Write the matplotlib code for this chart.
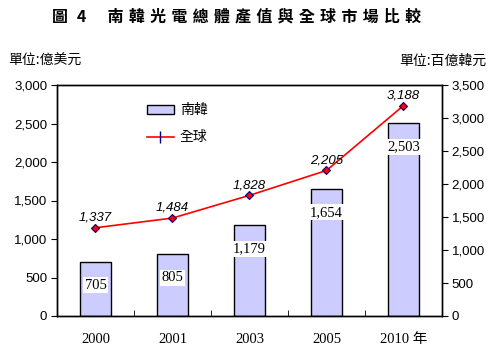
import matplotlib
matplotlib.use("Agg")
import matplotlib.pyplot as plt
from matplotlib.patches import Patch
from matplotlib.lines import Line2D

years = ["2000", "2001", "2003", "2005", "2010 年"]
korea = [705, 805, 1179, 1654, 2503]
world = [1337, 1484, 1828, 2205, 3188]
left_ticks = [0, 500, 1000, 1500, 2000, 2500, 3000]
right_ticks = [0, 500, 1000, 1500, 2000, 2500, 3000, 3500]

CJK = ['Noto Sans CJK TC', 'DejaVu Sans']
NUM = ['Liberation Sans', 'Noto Sans CJK TC']
SER = ['Liberation Serif', 'Noto Sans CJK TC']

fig = plt.figure(figsize=(4.99, 3.49), dpi=100)
ax = fig.add_axes([57/499, 33/349, 385/499, 231/349])
ax2 = ax.twinx()

x = list(range(len(years)))
bars = ax.bar(x, korea, width=0.4, color='#ccccff', edgecolor='black', linewidth=1.0, zorder=2)
ax.set_ylim(0, 3000)
ax.set_xlim(-0.5, len(years) - 0.5)
ax.set_yticks(left_ticks)
ax.set_yticklabels([f"{v:,}" for v in left_ticks], family=NUM, fontsize=9.5)
ax.set_xticks(x)
ax.set_xticklabels(years, family=SER, fontsize=10.5)
ax.set_xticks([i + 0.5 for i in x[:-1]], minor=True)
ax.tick_params(axis='x', which='major', length=0, pad=12)
ax.tick_params(axis='x', which='minor', length=4, direction='in')
ax.tick_params(axis='y', length=4, direction='out', pad=3)

for xi, v in zip(x, korea):
    ax.annotate(f"{v:,}", (xi, v), xytext=(0, -17), textcoords='offset points',
                ha='center', va='center', fontsize=10.5, family=SER, zorder=5,
                bbox=dict(facecolor='white', edgecolor='none', pad=1))

ax2.plot(x, world, color='#ff0000', lw=1.2, marker='D', markersize=4.5,
         markerfacecolor='#ff0000', markeredgecolor='#000080', markeredgewidth=0.8, zorder=3)
ax2.set_ylim(0, 3500)
ax2.set_yticks(right_ticks)
ax2.set_yticklabels([f"{v:,}" for v in right_ticks], family=NUM, fontsize=9.5)
ax2.tick_params(axis='y', length=4, direction='out', pad=3)
for xi, v in zip(x, world):
    ax2.annotate(f"{v:,}", (xi, v), xytext=(0, 3), textcoords='offset points',
                 ha='center', va='bottom', fontsize=9.5, family=NUM, style='italic')

for a in (ax, ax2):
    for s in a.spines.values():
        s.set_color('black')
        s.set_linewidth(1.0)

handles = [Patch(facecolor='#ccccff', edgecolor='black', label='南韓'),
           Line2D([0], [0], color='#ff0000', lw=1.2, marker='|', markersize=8,
                  markeredgecolor='#000080', label='全球')]
leg = ax.legend(handles=handles, loc='upper left', bbox_to_anchor=(0.2, 0.975),
                frameon=False, prop={'family': CJK, 'size': 10},
                handlelength=2.0, labelspacing=0.95, handletextpad=0.4)
leg.set_zorder(10)

title_chars = "南韓光電總體產值與全球市場比較"
title = "圖\u2004 4\u3000\u2004" + "\u2004".join(title_chars)
fig.text(237/499, 1 - 16/349, title,
         ha='center', va='center', fontsize=11.5, weight='bold', family=CJK)
fig.text(8/499, 1 - 61/349, "單位:億美元", ha='left', va='center', fontsize=10, family=CJK)
fig.text(486/499, 1 - 61/349, "單位:百億韓元", ha='right', va='center', fontsize=10, family=CJK)

fig.savefig("out.png", dpi=100)
